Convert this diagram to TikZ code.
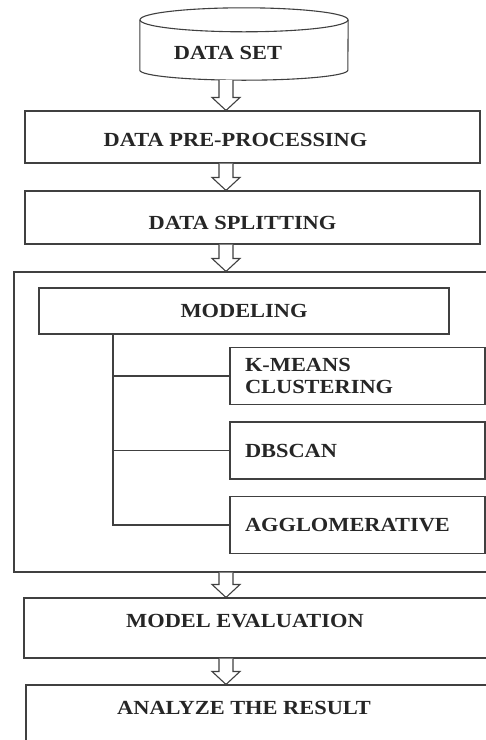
\documentclass[tikz,border=0pt]{standalone}
\usepackage{fontspec}
\setmainfont{Liberation Serif}[FakeStretch=1.12]
\usetikzlibrary{calc}

\begin{document}
\begin{tikzpicture}[x=1pt,y=1pt,
    line/.style={draw=black!75,line width=1.1pt},
    box/.style={line,rectangle,inner sep=0pt},
    lbl/.style={font=\fontsize{20}{22}\selectfont\bfseries,text=black!85},
    method/.style={box,lbl,minimum width=255pt,minimum height=57pt,text width=225pt,inner xsep=15pt,align=left},
    hollow/.style={line,fill=white,
      to path={let \p1=(\tikztostart), \p2=(\tikztotarget) in
        (\x1-7pt,\y1) -- (\x1-7pt,\y2+13pt) -- (\x1-14pt,\y2+13pt) -- (\x1,\y2)
        -- (\x1+14pt,\y2+13pt) -- (\x1+7pt,\y2+13pt) -- (\x1+7pt,\y1)}}]
  \clip (0,0) rectangle (486,-740);
  \fill[white] (0,0) rectangle (486,-740);

  % data set drum
  \node[inner sep=0pt,minimum width=208pt,minimum height=72pt,
        label={[lbl,xshift=-16pt,yshift=-9pt]center:DATA SET}] (dataset) at (244,-44) {};
  \draw[line] ($(dataset.north)+(0,-12)$) ellipse [x radius=104, y radius=12];
  \draw[line] ($(dataset.north west)+(0,-12)$) -- ($(dataset.south west)+(0,10)$)
    arc[start angle=180,end angle=360,x radius=104,y radius=10]
    -- ($(dataset.north east)+(0,-12)$);

  \node[box,minimum width=455pt,minimum height=52pt,
        label={[lbl,xshift=-17pt,yshift=-3pt]center:DATA PRE-PROCESSING}] (prep) at (252.5,-137) {};
  \node[box,minimum width=455pt,minimum height=53pt,
        label={[lbl,xshift=-10pt,yshift=-5pt]center:DATA SPLITTING}] (split) at (252.5,-217.5) {};

  % modeling block with its three methods
  \node[box,minimum width=486pt,minimum height=300pt] (outer) at (257,-422) {};
  \node[box,lbl,minimum width=410pt,minimum height=46pt] (modeling) at (244,-311) {MODELING};
  \node[method] (kmeans) at (357.5,-376) {K-MEANS\\CLUSTERING};
  \node[method] (dbscan) at (357.5,-450.5) {DBSCAN};
  \node[method] (agglo) at (357.5,-525) {AGGLOMERATIVE};
  \coordinate (trunk) at (113,-334);
  \draw[line] (trunk) |- (agglo.west);
  \draw[line] (trunk |- kmeans.west) -- (kmeans.west);
  \draw[line] (trunk |- dbscan.west) -- (dbscan.west);

  \node[box,minimum width=476pt,minimum height=60pt,
        label={[lbl,xshift=-17pt,yshift=7pt]center:MODEL EVALUATION}] (eval) at (262,-628) {};
  \node[box,minimum width=474pt,minimum height=85pt,
        label={[lbl,xshift=-19pt,yshift=20pt]center:ANALYZE THE RESULT}] (result) at (263,-727.5) {};

  \coordinate (spine) at (226,0);
  \draw[hollow] (spine |- dataset.south) to (spine |- prep.north);
  \draw[hollow] (spine |- prep.south) to (spine |- split.north);
  \draw[hollow] (spine |- split.south) to (spine |- outer.north);
  \draw[hollow] (spine |- outer.south) to (spine |- eval.north);
  \draw[hollow] (spine |- eval.south) to (spine |- result.north);
\end{tikzpicture}
\end{document}
